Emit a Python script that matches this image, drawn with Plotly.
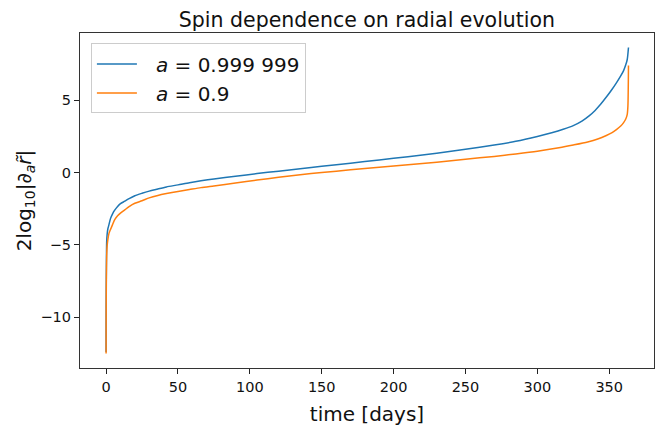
import plotly.graph_objects as go

# time [days]
t_blue = [0, 0.02, 0.08, 0.2, 0.4, 0.7, 1.2, 2, 3, 4.5, 6, 8, 10, 13, 16, 20, 25, 30,
          36, 42, 50, 58, 66, 75, 90, 105, 120, 135, 150, 170, 190, 210, 230, 250,
          270, 285, 300, 310, 318, 325, 331, 336, 340, 344, 348, 352, 355, 358, 360,
          361.5, 362.5, 363.4]
y_blue = [-12.4, -10.5, -8.3, -6.4, -4.8, -4.3, -3.9, -3.6, -3.2, -2.85, -2.6, -2.35,
          -2.15, -1.98, -1.8, -1.6, -1.43, -1.28, -1.13, -0.99, -0.85, -0.7, -0.57,
          -0.44, -0.25, -0.07, 0.1, 0.26, 0.43, 0.65, 0.87, 1.1, 1.34, 1.61, 1.9,
          2.16, 2.5, 2.76, 3.0, 3.25, 3.56, 3.92, 4.28, 4.72, 5.22, 5.76, 6.2, 6.68,
          7.05, 7.45, 7.8, 8.65]

t_orange = [0, 0.02, 0.08, 0.2, 0.4, 0.7, 1.2, 2, 3, 4.5, 6, 8, 10, 13, 16, 20, 25,
            30, 36, 42, 50, 58, 66, 75, 90, 105, 120, 135, 150, 170, 190, 210, 230,
            250, 270, 285, 300, 315, 325, 335, 342, 348, 352, 355, 358, 360, 361.5,
            362.5, 363, 363.4]
y_orange = [-12.5, -11.0, -9.0, -7.2, -5.8, -5.1, -4.65, -4.2, -3.95, -3.6, -3.25,
            -2.98, -2.8, -2.58, -2.35, -2.12, -1.95, -1.75, -1.58, -1.45, -1.3, -1.17,
            -1.04, -0.92, -0.72, -0.52, -0.33, -0.15, 0.0, 0.19, 0.37, 0.54, 0.72, 0.92,
            1.12, 1.29, 1.48, 1.72, 1.91, 2.12, 2.32, 2.56, 2.76, 2.97, 3.22, 3.45, 3.7,
            4.0, 4.6, 7.4]

labels = ["\u2002\u2009<i>a</i> = 0.999 999", "\u2002\u2009<i>a</i> = 0.9"]
colors = ["#1f77b4", "#ff7f0e"]
x_ticks = [0, 50, 100, 150, 200, 250, 300, 350]
y_ticks = [-10, -5, 0, 5]

FONT = "DejaVu Sans"

fig = go.Figure()
fig.add_trace(go.Scatter(x=t_blue, y=y_blue, mode="lines", name=labels[0],
                         line=dict(color=colors[0], width=1.5, shape="spline", smoothing=0.7)))
fig.add_trace(go.Scatter(x=t_orange, y=y_orange, mode="lines", name=labels[1],
                         line=dict(color=colors[1], width=1.5, shape="spline", smoothing=0.7)))

axis_common = dict(showline=True, mirror=True, linecolor="#333", linewidth=1.2,
                   ticks="outside", ticklen=5, tickwidth=1, tickcolor="#222",
                   showgrid=False, zeroline=False, automargin=False,
                   tickfont=dict(family=FONT, size=14.5, color="#111"))

fig.update_layout(
    width=666, height=426,
    margin=dict(l=80, r=12, t=33, b=58),
    paper_bgcolor="white", plot_bgcolor="white",
    font=dict(family=FONT, color="#111"),
    title=dict(text="Spin dependence on radial evolution", x=0.551, xanchor="center",
               y=0.953, yanchor="middle", font=dict(family=FONT, size=20.5, color="#111")),
    xaxis=dict(range=[-18.15, 381.15], tickvals=x_ticks,
               title=dict(text="time [days]", font=dict(family=FONT, size=20, color="#111"), standoff=14),
               **axis_common),
    yaxis=dict(range=[-13.51, 9.65], tickvals=y_ticks,
               title=dict(text="2log<sub>10</sub>|∂<sub><i>a</i></sub><i>r\u0303</i>|",
                          font=dict(family=FONT, size=20, color="#111"), standoff=3),
               **axis_common),
    legend=dict(x=0.019, y=0.969, xanchor="left", yanchor="top",
                bgcolor="rgba(255,255,255,0.8)", bordercolor="#cccccc", borderwidth=1,
                font=dict(family=FONT, size=20, color="#111"),
                tracegroupgap=0, itemwidth=40),
    showlegend=True,
)

fig.write_html("out.html")
